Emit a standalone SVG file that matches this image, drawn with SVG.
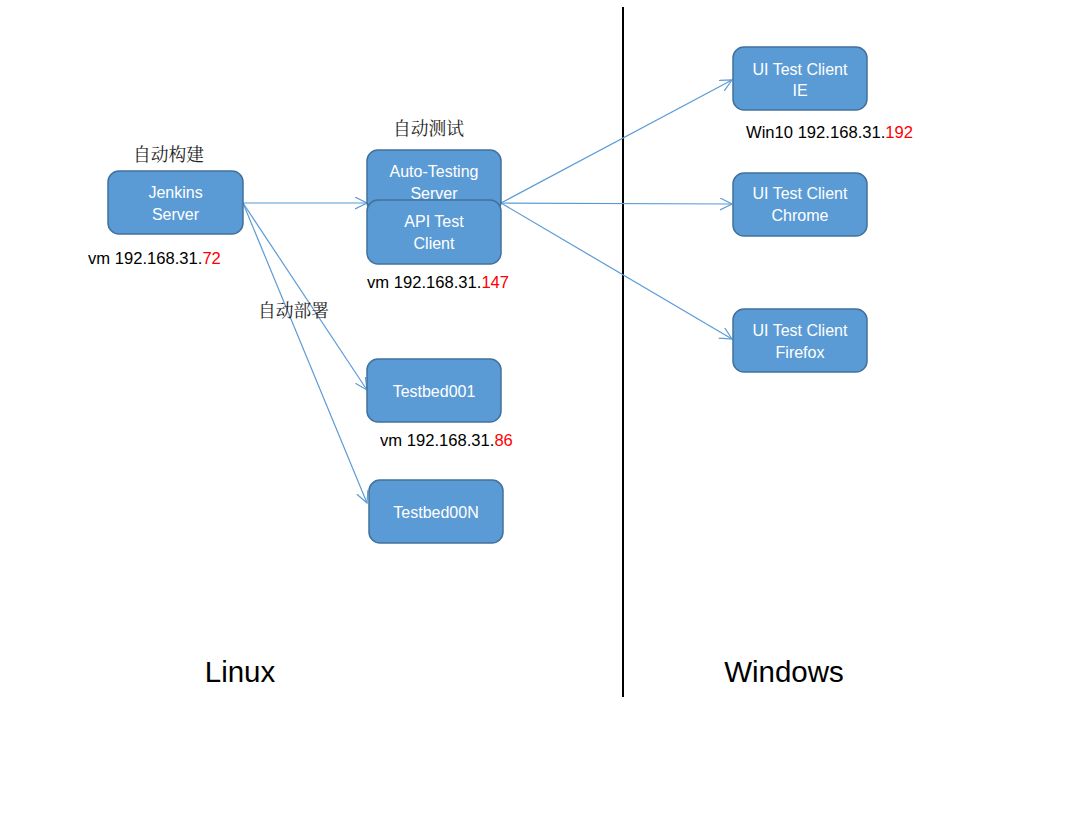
<svg xmlns="http://www.w3.org/2000/svg" width="1085" height="836" viewBox="0 0 1085 836">
<style>
.box{fill:#5B9BD5;stroke:#41719C;stroke-width:1.5}
.nt{font-family:"Liberation Sans",Arial,sans-serif;font-size:16px;fill:#FFFFFF;text-anchor:middle}
.ip{font-family:"Liberation Sans",Arial,sans-serif;font-size:16.6px;fill:#000000}
.red{fill:#FF0000}
.cn{font-family:"Noto Serif CJK SC","Noto Sans CJK SC",serif;font-size:17.8px;fill:#222222}
.big{font-family:"Liberation Sans",Arial,sans-serif;font-size:29.5px;fill:#000000;text-anchor:middle}
.conn{stroke:#5B9BD5;stroke-width:1.2;fill:none;marker-end:url(#arr)}
</style>
<defs>
<marker id="arr" markerWidth="14" markerHeight="14" refX="12" refY="6" orient="auto" markerUnits="userSpaceOnUse">
<path d="M0,0 L12,6 L0,12" fill="none" stroke="#5B9BD5" stroke-width="1.2"/>
</marker>
</defs>
<rect width="1085" height="836" fill="#FFFFFF"/>
<line x1="623" y1="7" x2="623" y2="697" stroke="#000000" stroke-width="2"/>
<g id="connectors">
<line class="conn" x1="243" y1="203" x2="367" y2="203"/>
<line class="conn" x1="243" y1="203" x2="367" y2="390"/>
<line class="conn" x1="243" y1="203" x2="367" y2="503"/>
<line class="conn" x1="501" y1="203" x2="732" y2="80"/>
<line class="conn" x1="501" y1="203" x2="732" y2="204"/>
<line class="conn" x1="501" y1="203" x2="732" y2="339"/>
</g>
<g id="jenkins">
<rect class="box" x="108" y="171" width="135" height="63" rx="11"/>
<text class="nt" x="175.5" y="198">Jenkins</text>
<text class="nt" x="175.5" y="220">Server</text>
</g>
<g id="auto-testing">
<rect class="box" x="367" y="150" width="134" height="63" rx="11"/>
<text class="nt" x="434" y="177">Auto-Testing</text>
<text class="nt" x="434" y="199">Server</text>
</g>
<g id="api-test">
<rect class="box" x="367" y="200" width="134" height="64" rx="11"/>
<text class="nt" x="434" y="227">API Test</text>
<text class="nt" x="434" y="249">Client</text>
</g>
<g id="testbed001">
<rect class="box" x="367" y="359" width="134" height="63" rx="11"/>
<text class="nt" x="434" y="397">Testbed001</text>
</g>
<g id="testbed00n">
<rect class="box" x="369" y="480" width="134" height="63" rx="11"/>
<text class="nt" x="436" y="518">Testbed00N</text>
</g>
<g id="ui-ie">
<rect class="box" x="733" y="47" width="134" height="63" rx="11"/>
<text class="nt" x="800" y="75">UI Test Client</text>
<text class="nt" x="800" y="96">IE</text>
</g>
<g id="ui-chrome">
<rect class="box" x="733" y="173" width="134" height="63" rx="11"/>
<text class="nt" x="800" y="199">UI Test Client</text>
<text class="nt" x="800" y="221">Chrome</text>
</g>
<g id="ui-firefox">
<rect class="box" x="733" y="309" width="134" height="63" rx="11"/>
<text class="nt" x="800" y="336">UI Test Client</text>
<text class="nt" x="800" y="358">Firefox</text>
</g>
<g id="labels">
<text class="cn" x="133" y="161">自动构建</text>
<text class="cn" x="393" y="135">自动测试</text>
<text class="cn" x="258" y="317">自动部署</text>
<text class="ip" x="88" y="264">vm 192.168.31.<tspan class="red">72</tspan></text>
<text class="ip" x="367" y="288">vm 192.168.31.<tspan class="red">147</tspan></text>
<text class="ip" x="380" y="446">vm 192.168.31.<tspan class="red">86</tspan></text>
<text class="ip" x="746" y="138">Win10 192.168.31.<tspan class="red">192</tspan></text>
<text class="big" x="240" y="682">Linux</text>
<text class="big" x="784" y="682">Windows</text>
</g>
</svg>
